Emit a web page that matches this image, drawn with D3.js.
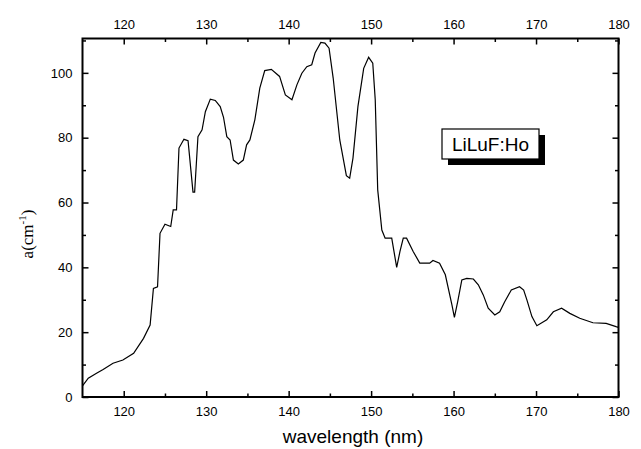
<!DOCTYPE html>
<html><head><meta charset="utf-8">
<script src="https://cdn.jsdelivr.net/npm/d3@7"></script>
<style>html,body{margin:0;padding:0;background:#fff;}svg{display:block;font-family:"Liberation Sans",Arial,sans-serif;}</style>
</head><body>
<svg id="chart" width="641" height="449"></svg>
<script>
const wavelength = [115,115.7,116.7,117.5,118.7,119.9,121.2,122.4,123.2,123.6,124.1,124.4,125.0,125.7,126.0,126.4,126.7,127.3,127.8,128.4,128.6,129.0,129.5,129.9,130.5,131.1,131.7,132.1,132.5,132.9,133.3,133.9,134.5,134.9,135.3,135.9,136.5,137.1,137.9,138.9,139.6,140.4,141.0,141.6,142.2,142.8,143.2,143.9,144.4,144.9,145.4,146.2,147.0,147.4,147.8,148.4,149.1,149.7,150.2,150.5,150.8,151.3,151.7,152.5,153.1,153.5,153.9,154.3,155.1,155.9,157.1,157.5,158.3,159.0,159.8,160.1,160.5,161.0,161.6,162.4,163.0,163.6,164.2,165.0,165.6,166.2,167.0,168.0,168.5,168.9,169.5,170.1,170.7,171.3,172.1,173.1,174.1,175.3,176.9,178.5,179.7,180];
const absorption = [3.4,5.8,7.3,8.5,10.4,11.4,13.5,18.1,22.2,33.5,34,50.5,53.3,52.6,57.7,57.7,76.8,79.5,79.1,63.2,63.2,80.3,82.4,88,91.9,91.5,89.6,86.3,80.3,79.3,73.1,71.9,73.1,77.8,79.3,85.5,95.3,100.7,101.1,98.9,93.2,91.7,96.3,99.9,101.9,102.5,106.1,109.4,109.2,107.6,98.4,79.3,68.3,67.5,73.7,89.6,101.4,104.8,103,91.7,63.9,51.5,49,49,40,44.9,49,49,44.9,41.3,41.3,42.1,41.3,37.7,28.4,24.6,29.4,36.1,36.6,36.4,34.6,31.5,27.4,25.3,26.3,29.4,33,34,33,29.9,24.8,22,22.9,23.8,26.3,27.4,25.8,24.3,22.9,22.7,21.7,21.5];
const xTicksMajor = [120,130,140,150,160,170,180];
const xTicksMinor = [125,135,145,155,165,175];
const yTicksMajor = [0,20,40,60,80,100];
const yTicksMinor = [10,30,50,70,90,110];
const legendText = "LiLuF:Ho";

(function(){
const svg = d3.select("#chart");
const L=82.5,R=618.5,T=38.5,B=397;
const x = d3.scaleLinear().domain([115,180]).range([L,R]);
const y = d3.scaleLinear().domain([0,110.6]).range([B,T]);

const g = svg.append("g");
const line = d3.line().x((d,i)=>x(wavelength[i])).y(d=>y(d));
g.append("path").datum(absorption).attr("d",line).attr("fill","none").attr("stroke","#000").attr("stroke-width",1.2);

g.append("rect").attr("x",L).attr("y",T).attr("width",R-L).attr("height",B-T).attr("fill","none").attr("stroke","#000").attr("stroke-width",2);

const fs=13;
svg.append("g").attr("transform",`translate(0,${B})`).call(d3.axisBottom(x).tickValues(xTicksMajor).tickSize(-6).tickPadding(10).tickFormat(d3.format("d")));
svg.append("g").attr("transform",`translate(0,${B})`).call(d3.axisBottom(x).tickValues(xTicksMinor).tickSize(-3.5).tickFormat(""));
svg.append("g").attr("transform",`translate(0,${T})`).call(d3.axisTop(x).tickValues(xTicksMajor).tickSize(-6).tickPadding(10).tickFormat(d3.format("d")));
svg.append("g").attr("transform",`translate(0,${T})`).call(d3.axisTop(x).tickValues(xTicksMinor).tickSize(-3.5).tickFormat(""));
svg.append("g").attr("transform",`translate(${L},0)`).call(d3.axisLeft(y).tickValues(yTicksMajor).tickSize(-6).tickPadding(10).tickFormat(d3.format("d")));
svg.append("g").attr("transform",`translate(${L},0)`).call(d3.axisLeft(y).tickValues(yTicksMinor).tickSize(-3.5).tickFormat(""));
svg.append("g").attr("transform",`translate(${R},0)`).call(d3.axisRight(y).tickValues(yTicksMajor).tickSize(-6).tickFormat(""));
svg.append("g").attr("transform",`translate(${R},0)`).call(d3.axisRight(y).tickValues(yTicksMinor).tickSize(-3.5).tickFormat(""));

svg.selectAll(".domain").remove();
svg.selectAll(".tick line").attr("stroke","#000").attr("stroke-width",1.5);
svg.selectAll(".tick text").attr("font-size",fs).attr("font-family","'Liberation Sans',Arial,sans-serif").attr("fill","#000");

svg.append("text").attr("x",353).attr("y",443).attr("text-anchor","middle").attr("font-size",19).text("wavelength (nm)");
const yl = svg.append("text").attr("transform",`translate(33,234) rotate(-90)`).attr("text-anchor","middle").attr("font-size",17).attr("font-family","'Liberation Serif','Times New Roman',serif");
yl.append("tspan").text("a(cm");
yl.append("tspan").attr("font-size",11).attr("dy",-7).text("-1");
yl.append("tspan").attr("dy",7).text(")");

const lx=442, ly=129, lw=97, lh=30;
svg.append("rect").attr("x",lx+6).attr("y",ly+6).attr("width",lw).attr("height",lh).attr("fill","#000");
svg.append("rect").attr("x",lx).attr("y",ly).attr("width",lw).attr("height",lh).attr("fill","#fff").attr("stroke","#000").attr("stroke-width",1.2);
svg.append("text").attr("x",lx+lw/2).attr("y",ly+lh/2+7).attr("text-anchor","middle").attr("font-size",19).text(legendText);
})();
</script>
</body></html>
